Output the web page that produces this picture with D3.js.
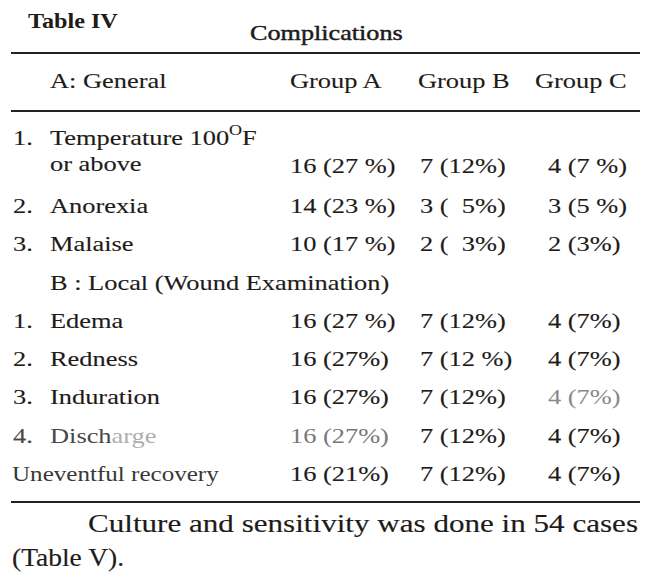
<!DOCTYPE html>
<html><head><meta charset="utf-8">
<script src="https://cdn.jsdelivr.net/npm/d3@7/dist/d3.min.js"></script>
<style>body{margin:0;background:#fff}svg{display:block}</style>
</head><body>
<svg id="c" width="650" height="575"></svg>
<script>
const tableTitle = "Table IV";
const caption = "Complications";
const headers = ["A: General", "Group A", "Group B", "Group C"];
const rowNums = ["2.", "3.", "", "1.", "2.", "3.", "4.", ""];
const rowLabels = ["Anorexia", "Malaise", "B : Local (Wound Examination)", "Edema", "Redness", "Induration", "Discharge", "Uneventful recovery"];
const groupA = ["14 (23 %)", "10 (17 %)", "", "16 (27 %)", "16 (27%)", "16 (27%)", "16 (27%)", "16 (21%)"];
const groupB = ["3 (  5%)", "2 (  3%)", "", "7 (12%)", "7 (12 %)", "7 (12%)", "7 (12%)", "7 (12%)"];
const groupC = ["3 (5 %)", "2 (3%)", "", "4 (7%)", "4 (7%)", "4 (7%)", "4 (7%)", "4 (7%)"];
const firstRow = {num: "1.", line1: "Temperature 100", sup: "O", unit: "F", line2: "or above", a: "16 (27 %)", b: "7 (12%)", c: "4 (7 %)"};
const footText = ["Culture and sensitivity was done in 54 cases", "(Table V)."];

const svg = d3.select("#c");
const ink = "#1e1b18";
const font = "'Liberation Serif','Times New Roman',serif";
const SX = 1.2;

function txt(x, y, s, opts = {}) {
  const g = svg.append("g").attr("transform", `translate(${x},${y}) scale(${opts.sx || SX},1)`);
  const fill = opts.fill || ink;
  const t = g.append("text").attr("font-family", font)
    .attr("font-size", opts.size || 22).attr("fill", fill)
    .attr("font-weight", opts.weight || "normal")
    .attr("text-anchor", opts.anchor || "start")
    .attr("stroke", fill).attr("stroke-width", opts.stroke != null ? opts.stroke : 0.12)
    .attr("xml:space", "preserve").style("white-space", "pre")
    .text(s);
  return t;
}

// columns
const colX = d3.scaleOrdinal().domain(["label", "A", "B", "C"]).range([50, 290, 420, 548]);
const headX = d3.scaleOrdinal().domain(headers).range([50, 290, 418, 535]);
const rowY = d3.scaleLinear().domain([0, 7]).range([213, 481]);

txt(28, 28, tableTitle, {weight: "bold", size: 22, sx: 1.1, stroke: 0});
txt(250, 40, caption, {size: 22, sx: 1.19, stroke: 0.45});

const rules = [53, 111, 502];
svg.selectAll("line.rule").data(rules).join("line").attr("class", "rule")
  .attr("x1", 11).attr("x2", 640).attr("y1", d => d).attr("y2", d => d)
  .attr("stroke", "#222").attr("stroke-width", 2);

headers.forEach(h => txt(headX(h), 88, h));

// first row
txt(13, 145, firstRow.num);
const t1 = txt(50, 145, firstRow.line1);
t1.append("tspan").attr("font-size", 15).attr("dy", -10).text(firstRow.sup);
t1.append("tspan").attr("dy", 10).text(firstRow.unit);
txt(50, 171, firstRow.line2);
txt(colX("A"), 173, firstRow.a);
txt(colX("B"), 173, firstRow.b);
txt(colX("C"), 173, firstRow.c);

rowLabels.forEach((lab, i) => {
  const y = rowY(i);
  if (rowNums[i]) txt(13, y, rowNums[i], {fill: i === 6 ? "#4a4846" : ink});
  if (i === 7) {
    txt(12, y, lab, {fill: "#3a3836", sx: 1.14, stroke: 0});
  } else if (i === 6) {
    const t = txt(colX("label"), y, "Disch", {fill: "#4a4846", stroke: 0});
    t.append("tspan").attr("fill", "#b0aeac").text("arge");
  } else {
    txt(colX("label"), y, lab);
  }
  if (groupA[i]) txt(colX("A"), y, groupA[i], {fill: i === 6 ? "#7a7876" : ink, stroke: i === 6 ? 0 : 0.12});
  if (groupB[i]) txt(colX("B"), y, groupB[i]);
  if (groupC[i]) txt(colX("C"), y, groupC[i], {fill: i === 5 ? "#8a8886" : ink, stroke: i === 5 ? 0 : 0.12});
});

svg.append("text").attr("x", 88).attr("y", 532)
  .attr("font-family", font).attr("font-size", 25).attr("fill", ink)
  .attr("stroke", ink).attr("stroke-width", 0.15)
  .attr("textLength", 550).attr("lengthAdjust", "spacingAndGlyphs")
  .text(footText[0]);
txt(12, 566, footText[1], {size: 25, sx: 1.1, stroke: 0.15});
</script>
</body></html>
